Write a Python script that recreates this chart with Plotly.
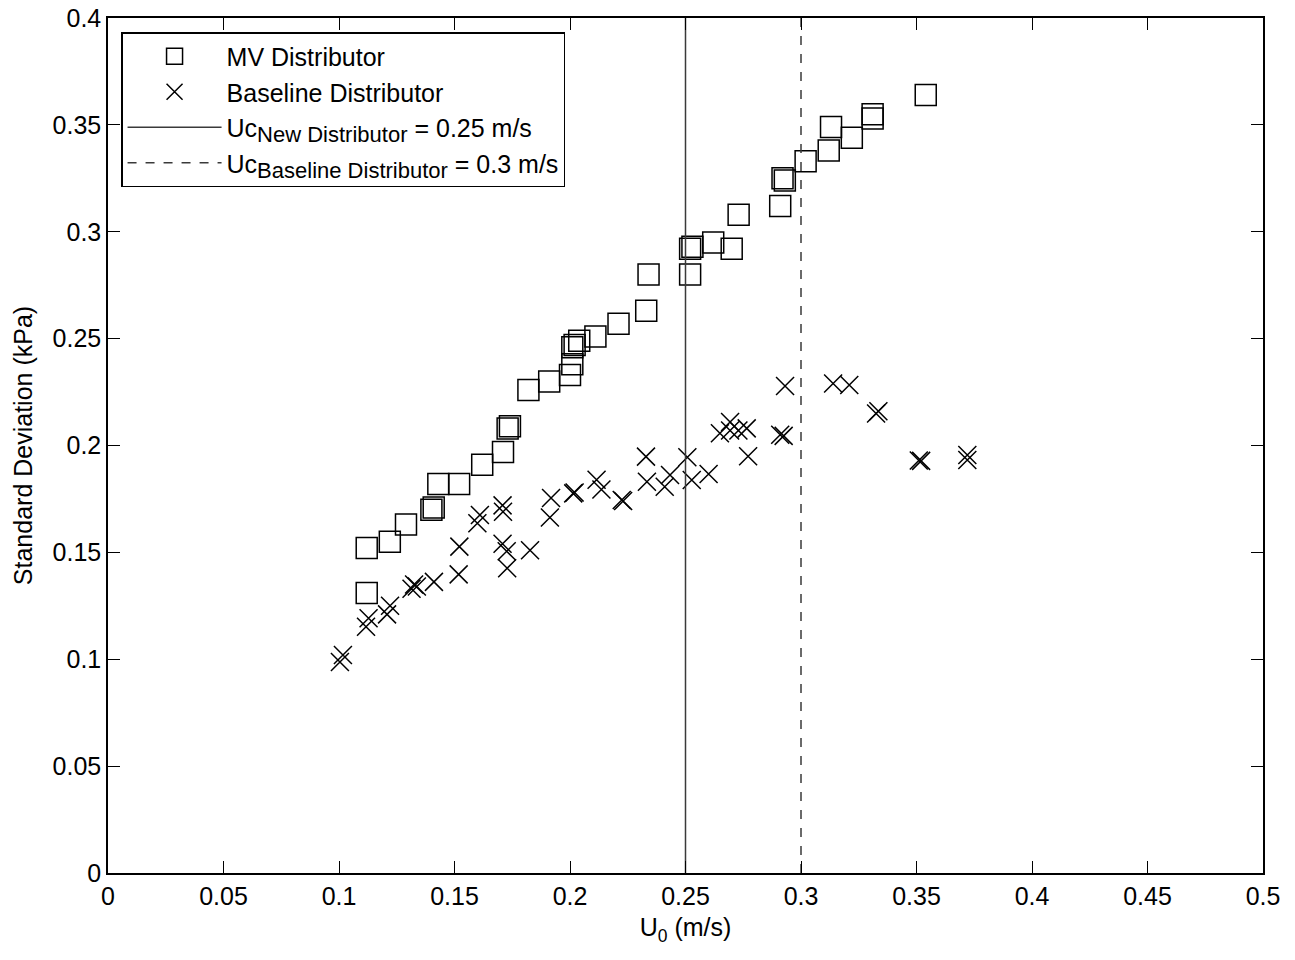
import plotly.graph_objects as go

# MV Distributor (squares)
mv_u = [0.112, 0.112, 0.122, 0.129, 0.140, 0.141, 0.143, 0.152, 0.162, 0.171,
        0.173, 0.174, 0.182, 0.191, 0.200, 0.201, 0.201, 0.202, 0.204, 0.211,
        0.221, 0.233, 0.234, 0.252, 0.252, 0.253, 0.262, 0.270, 0.273, 0.291,
        0.292, 0.293, 0.302, 0.312, 0.313, 0.322, 0.331, 0.331, 0.354]
mv_sd = [0.131, 0.152, 0.155, 0.163, 0.170, 0.171, 0.182, 0.182, 0.191, 0.197,
         0.208, 0.209, 0.226, 0.230, 0.233, 0.238, 0.246, 0.247, 0.249, 0.251,
         0.257, 0.263, 0.280, 0.280, 0.292, 0.293, 0.295, 0.292, 0.308, 0.312,
         0.325, 0.324, 0.333, 0.338, 0.349, 0.344, 0.355, 0.353, 0.364]

# Baseline Distributor (crosses)
bl_u = [0.1004, 0.1017, 0.1117, 0.1128, 0.1208, 0.1221, 0.1314, 0.1325, 0.1337, 0.1411,
        0.1518, 0.1521, 0.1599, 0.1610, 0.1708, 0.1710, 0.1708, 0.1726, 0.1728, 0.1827,
        0.1913, 0.1918, 0.2014, 0.2020, 0.2115, 0.2136, 0.2224, 0.2230, 0.2329, 0.2333,
        0.2410, 0.2433, 0.2508, 0.2527, 0.2600, 0.2649, 0.2693, 0.2693, 0.2729, 0.2765,
        0.2771, 0.2931, 0.2910, 0.2925, 0.3139, 0.3209, 0.3325, 0.3335, 0.3510, 0.3520,
        0.3720, 0.3720]
bl_sd = [0.0987, 0.1020, 0.1152, 0.1192, 0.1210, 0.1250, 0.1330, 0.1350, 0.1340, 0.1362,
         0.1397, 0.1527, 0.1636, 0.1675, 0.1720, 0.1690, 0.1540, 0.1505, 0.1426, 0.1510,
         0.1663, 0.1754, 0.1776, 0.1780, 0.1840, 0.1794, 0.1745, 0.1740, 0.1948, 0.1830,
         0.1807, 0.1862, 0.1945, 0.1839, 0.1867, 0.2057, 0.2110, 0.2070, 0.2070, 0.2080,
         0.1950, 0.2278, 0.2050, 0.2045, 0.2290, 0.2283, 0.2150, 0.2160, 0.1930, 0.1928,
         0.1956, 0.1932]

uc_new = 0.25
uc_base = 0.3
y_range = [0, 0.4]
x_range = [0, 0.5]
x_ticks = [0, 0.05, 0.1, 0.15, 0.2, 0.25, 0.3, 0.35, 0.4, 0.45, 0.5]
x_ticklabels = ["0", "0.05", "0.1", "0.15", "0.2", "0.25", "0.3", "0.35", "0.4", "0.45", "0.5"]
y_ticks = [0, 0.05, 0.1, 0.15, 0.2, 0.25, 0.3, 0.35, 0.4]
y_ticklabels = ["0", "0.05", "0.1", "0.15", "0.2", "0.25", "0.3", "0.35", "0.4"]

FONT = "Liberation Sans, Arial, sans-serif"
FS = 25
SUB = '<sub><span style="font-size:22px">{}</span></sub>'

fig = go.Figure()
fig.add_trace(go.Scatter(
    x=mv_u, y=mv_sd, mode="markers", name="MV Distributor",
    marker=dict(symbol="square-open", size=21, color="black", line=dict(width=1.5, color="black")),
))
fig.add_trace(go.Scatter(
    x=bl_u, y=bl_sd, mode="markers", name="Baseline Distributor",
    marker=dict(symbol="x-thin-open", size=18, color="black", line=dict(width=1.5, color="black")),
))
fig.add_trace(go.Scatter(
    x=[uc_new, uc_new], y=y_range, mode="lines",
    name="Uc" + SUB.format("New Distributor") + " = 0.25 m/s",
    line=dict(color="#3a3a3a", width=1.5),
))
fig.add_trace(go.Scatter(
    x=[uc_base, uc_base], y=y_range, mode="lines",
    name="Uc" + SUB.format("Baseline Distributor") + " = 0.3 m/s",
    line=dict(color="#3a3a3a", width=1.5, dash="dash"),
))

axis_common = dict(
    showgrid=False, zeroline=False, showline=True, linecolor="black", linewidth=1.5,
    mirror="ticks", ticks="inside", ticklen=12, tickwidth=1, tickcolor="black",
    tickfont=dict(family=FONT, size=FS, color="black"), automargin=False,
    ticklabeloverflow="allow",
)
fig.update_xaxes(range=x_range, tickvals=x_ticks, ticktext=x_ticklabels,
                 title=dict(text="U<sub>0</sub> (m/s)", font=dict(family=FONT, size=FS, color="black"), standoff=10),
                 **axis_common)
fig.update_yaxes(range=y_range, tickvals=y_ticks, ticktext=y_ticklabels,
                 title=dict(text="Standard Deviation (kPa)", font=dict(family=FONT, size=FS, color="black"), standoff=13),
                 **axis_common)

fig.update_layout(
    width=1295, height=960,
    margin=dict(l=100, r=40, t=10, b=95),
    paper_bgcolor="white", plot_bgcolor="white",
    font=dict(family=FONT, color="black"),
    legend=dict(
        x=0.0113, y=0.9836, xanchor="left", yanchor="top",
        bgcolor="white", bordercolor="black", borderwidth=1.5,
        font=dict(family=FONT, size=FS, color="black"),
        itemwidth=94, tracegroupgap=0,
    ),
    showlegend=True,
)

fig.write_html("out.html")
